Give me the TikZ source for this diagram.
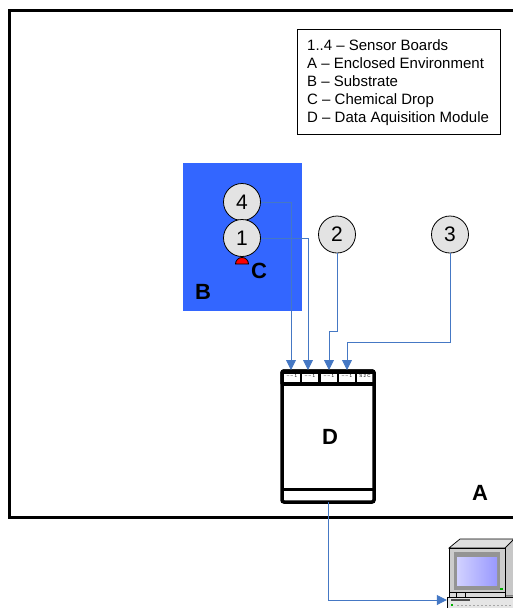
\documentclass[tikz,border=0pt]{standalone}
\usepackage{fontspec}
\setmainfont{Liberation Sans}
\usetikzlibrary{arrows.meta,positioning,calc}
\definecolor{WireClr}{rgb}{0.27,0.47,0.77}
\definecolor{SubstrateClr}{rgb}{0.2,0.4,1}
\definecolor{BoardClr}{rgb}{0.89,0.89,0.89}
\tikzset{
  board/.style={circle,draw=black,fill=BoardClr,line width=.8pt,minimum size=37pt,inner sep=0pt,font=\fontsize{21}{21}\selectfont},
  wire/.style={WireClr,line width=.85pt,-{Triangle[length=10pt,width=10pt]}},
  letter/.style={font=\fontsize{22}{22}\selectfont\bfseries,inner sep=0pt},
  slot/.style={draw=black,line width=2pt,fill=white,minimum width=18pt,minimum height=10pt,inner sep=0pt}
}
\begin{document}
\begin{tikzpicture}[x=1pt,y=-1pt]
\useasboundingbox (0,0) rectangle (512,608);

% environment
\draw[line width=3pt] (515,10) -- (9,10) -- (9,517) -- (515,517);
\node[letter] (a) at (480,493) {A};

% legend
\node[draw=black,line width=.8pt,fill=white,anchor=north west,minimum width=203pt,minimum height=105pt,inner sep=0pt] (legend) at (297,29) {};
\node[anchor=west,align=left,inner sep=0pt,font=\fontsize{15}{18}\selectfont] (legendtext) at (307,82.5) {1..4 -- Sensor Boards\\A -- Enclosed Environment\\B -- Substrate\\C -- Chemical Drop\\D -- Data Aquisition Module};

% substrate
\node[fill=SubstrateClr,anchor=north west,minimum width=119pt,minimum height=148pt,inner sep=0pt] (substrate) at (183,163) {};
\node[letter] (b) at (203,292) {B};

% drop
\draw[draw=black,fill=red,line width=.8pt] (235.5,264) arc (180:360:6.5) -- cycle;
\node[letter] (c) at (259,271) {C};

% boards
\node[board] (s4) at (242,202) {4};
\node[board] (s1) at (242,238) {1};
\node[board] (s2) at (337,234.5) {2};
\node[board] (s3) at (450,234.5) {3};

% module
\draw[line width=3.5pt,rounded corners=2pt] (282,371) rectangle (374,502);
\draw[line width=3pt] (282,384) -- (374,384);
\draw[line width=3pt] (282,489) -- (374,489);
\node[letter] (d) at (330,437) {D};
\foreach \n/\x/\lbl in {1/292/-- -- 1,2/310/-- -- 1,3/329/-- -- 1,4/347/-- -- 1,5/365/S 2 C}{
  \node[slot] (p\n) at (\x,377.5) {};
  \node[font=\fontsize{4.5}{4.5}\selectfont,inner sep=0pt] at (\x,376) {\lbl};
}
\draw[line width=3.5pt,rounded corners=2pt] (282,384) -- (282,371) -- (374,371) -- (374,384);
\coordinate (out) at (328,502);

% wires
\draw[wire] (s4.east) -- (291,202) -- (291,370);
\draw[wire] (s1.east) -- (308,238) -- (308,370);
\draw[wire] (s2.south) -- (337,331) -- (329,331) -- (329,370);
\draw[wire] (s3.south) -- (450,342) -- (347,342) -- (347,370);

% computer
\draw[fill=black!12,line width=.7pt] (449,548) -- (460,539) -- (514,539) -- (505,548) -- cycle;
\draw[fill=black!22,line width=.7pt] (505,548) -- (514,539) -- (514,596) -- (505,596) -- cycle;
\draw[fill=black!20,line width=.7pt] (449,548) rectangle (505,592);
\fill[black!42] (454,552) rectangle (500,590);
\shade[left color=blue!18!white,right color=blue!40!white] (457,557) rectangle (497,585);
\fill[green!70!black] (500,588) rectangle (503,590);
\draw[fill=black!15,line width=.7pt] (449,592) rectangle (505,597);
\draw (456,592) -- (456,597) (465,592) -- (465,597);
\draw[fill=black!10,line width=.7pt] (447,597) rectangle (514,610);
\draw[line width=1.2pt,black!70] (451,600) -- (470,600);
\fill[green!70!black] (451,604) rectangle (453,606);
\draw[black!35,line width=1pt,dash pattern=on 2pt off 2pt] (457,605) -- (512,605);
\node[inner sep=0pt,minimum size=0pt] (pc) at (447,600) {};

\draw[wire] (out) -- (328,600) -- (pc.west);
\end{tikzpicture}
\end{document}
